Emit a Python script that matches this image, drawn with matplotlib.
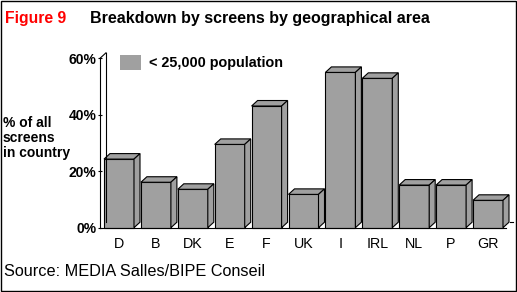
import matplotlib
matplotlib.use("Agg")
import matplotlib.pyplot as plt
from matplotlib.patches import Polygon, Rectangle

# data
countries = ['D', 'B', 'DK', 'E', 'F', 'UK', 'I', 'IRL', 'NL', 'P', 'GR']
share = [24.3, 16.1, 13.6, 29.5, 43.1, 11.8, 55.0, 52.9, 15.1, 15.1, 9.7]
yticks = [0, 20, 40, 60]
ytick_labels = ['0%', '20%', '40%', '60%']

W, H = 517, 292
fig = plt.figure(figsize=(W / 100, H / 100), dpi=100)
fig.patch.set_facecolor('white')
plt.rcParams['font.family'] = ['Liberation Sans', 'DejaVu Sans']

# axes box in pixel terms
left, right, top, bottom = 100, 510, 58.3, 227.7
ax = fig.add_axes([left / W, 1 - bottom / H, (right - left) / W, (bottom - top) / H])
step = 36.9
x0 = -19 / step
ax.set_xlim(x0, x0 + (right - left) / step)
ax.set_ylim(0, 60)
ax.patch.set_alpha(0)
for s in ['top', 'right', 'bottom']:
    ax.spines[s].set_visible(False)
ax.spines['left'].set_linewidth(0.8)

ax.set_yticks(yticks)
ax.set_yticklabels(ytick_labels, fontsize=10, fontweight='bold')
ax.tick_params(axis='y', direction='inout', length=3.4, width=0.8, pad=0.8)
ax.set_xticks(range(len(countries)))
ax.set_xticklabels(countries, fontsize=10.3)
ax.tick_params(axis='x', length=0, pad=7)

# 3d depth offsets
dx = 6 / step
dy = 5.5 / ((bottom - top) / 60)
bw = 30 / step
grey = '#a0a0a0'

# back wall and floor lines
ax.plot([x0 + dx, x0 + dx], [dy, 60 + dy], color='black', lw=0.8, clip_on=False)
ax.plot([x0, x0 + dx], [60, 60 + dy], color='black', lw=0.8, clip_on=False)
ax.plot([x0, x0 + 405.7 / step], [0, 0], color='black', lw=0.8, clip_on=False)
ax.plot([x0 + 410 / step, x0 + 412.5 / step], [dy, dy], color='black', lw=0.8, clip_on=False)

for i, v in enumerate(share):
    a, b = i - bw / 2, i + bw / 2
    kw = dict(facecolor=grey, edgecolor='black', lw=0.8, clip_on=False, joinstyle='miter')
    ax.add_patch(Rectangle((a, 0), bw, v, **kw))
    ax.add_patch(Polygon([(a, v), (a + dx, v + dy), (b + dx, v + dy), (b, v)], **kw))
    ax.add_patch(Polygon([(b, 0), (b + dx, dy), (b + dx, v + dy), (b, v)], **kw))

# legend
fig.patches.append(Rectangle((120 / W, 1 - 70 / H), 21 / W, 15 / H, transform=fig.transFigure,
                             facecolor=grey, edgecolor='none'))
fig.text(149 / W, 1 - 63 / H, '< 25,000 population', fontsize=10.4, fontweight='bold', va='center')

# titles and labels
fig.text(5 / W, 1 - 18 / H, 'Figure 9', color='#ff0000', fontsize=11.3, fontweight='bold', va='center')
fig.text(90 / W, 1 - 18 / H, 'Breakdown by screens by geographical area', fontsize=11.5,
         fontweight='bold', va='center')
fig.text(3 / W, 1 - 138 / H, '% of all\nscreens\nin country', fontsize=10, fontweight='bold',
         va='center', linespacing=1.05)
fig.text(4 / W, 1 - 272 / H, 'Source: MEDIA Salles/BIPE Conseil', fontsize=11.7, va='center')

# outer frame
fig.patches.append(Rectangle((0.5 / W, 1.5 / H), 515 / W, 290 / H, transform=fig.transFigure,
                             facecolor='none', edgecolor='black', lw=1.0))

fig.savefig('out.png', dpi=100)
